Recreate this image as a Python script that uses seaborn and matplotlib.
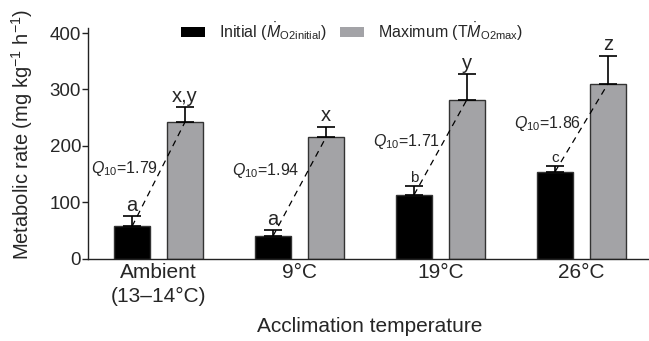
import matplotlib
matplotlib.use("Agg")
import matplotlib.pyplot as plt
import matplotlib.patches as mpatches
import seaborn as sns
import pandas as pd

# ---- data ----
groups = ["Ambient\n(13\u201314\u00b0C)", "9\u00b0C", "19\u00b0C", "26\u00b0C"]
initial = [57, 40, 113, 154]
initial_err = [18, 10, 15, 10]
maximum = [242, 215, 282, 310]
maximum_err = [27, 19, 45, 50]
initial_letters = ["a", "a", "b", "c"]
maximum_letters = ["x,y", "x", "y", "z"]
q10 = [1.79, 1.94, 1.71, 1.86]
series = ["Initial", "Maximum"]
legend_labels = [r"Initial ($\dot{M}_{\mathrm{O2initial}}$)",
                 r"Maximum (T$\dot{M}_{\mathrm{O2max}}$)"]

# ---- layout / style (not data) ----
q10_label_y = [160, 156, 208, 240]
initial_letter_sizes = [14.5, 14.5, 11, 11]
maximum_letter_sizes = [14.5, 14.5, 14.5, 14.5]

sns.set_theme(style="ticks")
plt.rcParams["font.family"] = ["Liberation Sans", "DejaVu Sans"]
plt.rcParams["mathtext.fontset"] = "custom"
plt.rcParams["mathtext.rm"] = "Liberation Sans"
plt.rcParams["mathtext.it"] = "Liberation Sans:italic"
plt.rcParams["mathtext.bf"] = "Liberation Sans:bold"

df = pd.DataFrame({
    "group": groups * 2,
    "series": [series[0]] * 4 + [series[1]] * 4,
    "value": initial + maximum,
})

fig = plt.figure(figsize=(6.49, 3.41), dpi=100)
ax = fig.add_axes([88 / 649, 82.5 / 341, 564 / 649, 230.5 / 341])

colors = ["#000000", "#a3a3a7"]
sns.barplot(data=df, x="group", y="value", hue="series", order=groups,
            hue_order=series, palette=colors, width=0.75, gap=0.333,
            edgecolor="#333333", linewidth=1.0, errorbar=None, ax=ax,
            legend=False)

ax.set_xlim(-0.5, 3.5)
ax.set_ylim(0, 409)
ax.set_yticks([0, 100, 200, 300, 400])
sns.despine(ax=ax)
for s in ("left", "bottom"):
    ax.spines[s].set_linewidth(1.0)
    ax.spines[s].set_color("#222222")
ax.tick_params(axis="y", length=4, width=1, labelsize=13.5, pad=1, color="#222222")
ax.tick_params(axis="x", length=0, labelsize=15, pad=3.5)
for lbl in ax.get_xticklabels():
    lbl.set_linespacing(1.32)

ax.set_xlabel("Acclimation temperature", fontsize=15, labelpad=8)
ax.set_ylabel(r"Metabolic rate (mg kg$^{-1}$ h$^{-1}$)", fontsize=14.5)
ax.yaxis.label.set_va("center")
ax.yaxis.set_label_coords(-0.117, 0.54)

bars_init = ax.containers[0]
bars_max = ax.containers[1]

def centers(container):
    return [p.get_x() + p.get_width() / 2 for p in container.patches]

xi = centers(bars_init)
xm = centers(bars_max)

for xs, vals, errs in [(xi, initial, initial_err), (xm, maximum, maximum_err)]:
    ax.errorbar(xs, vals, yerr=[[0] * len(errs), errs], fmt="none",
                ecolor="black", elinewidth=1.2, capsize=6.5, capthick=1.2,
                zorder=3)

for i in range(len(groups)):
    ax.plot([xi[i], xm[i]], [initial[i], maximum[i]], color="black",
            lw=0.9, ls=(0, (5, 4)), zorder=4)
    ax.annotate(initial_letters[i], (xi[i], initial[i] + initial_err[i]),
                xytext=(0, 1), textcoords="offset points", ha="center",
                va="bottom", fontsize=initial_letter_sizes[i])
    ax.annotate(maximum_letters[i], (xm[i], maximum[i] + maximum_err[i]),
                xytext=(0, 1), textcoords="offset points", ha="center",
                va="bottom", fontsize=maximum_letter_sizes[i])
    ax.text(i, q10_label_y[i], r"$Q_{10}$=%.2f" % q10[i], ha="right",
            va="center", fontsize=11.5, zorder=5)

handles = [mpatches.Patch(facecolor=c, edgecolor="none") for c in colors]
fig.legend(handles, legend_labels, loc="center", ncol=2,
           bbox_to_anchor=(352 / 649, 1 - 32 / 341), frameon=False,
           fontsize=11.5, handlelength=1.5, handleheight=0.6,
           handletextpad=0.9, columnspacing=0.8)

fig.savefig("out.png", dpi=100)
